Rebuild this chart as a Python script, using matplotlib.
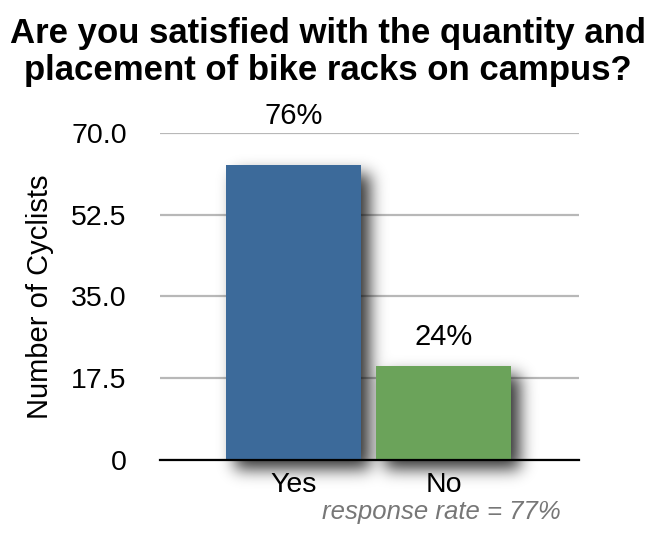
import matplotlib
matplotlib.use("Agg")
import matplotlib.pyplot as plt
import numpy as np

plt.rcParams["font.family"] = ["Liberation Sans", "DejaVu Sans"]

categories = ["Yes", "No"]
cyclists = [63, 20]
label_offsets = [49, 29]          # px above bar top for the percentage labels
yticks = [0, 17.5, 35.0, 52.5, 70.0]
ytick_labels = ["0", "17.5", "35.0", "52.5", "70.0"]
BLUE, GREEN = "#3c6a9a", "#6ba35a"

fig = plt.figure(figsize=(6.56, 5.35), dpi=100)
ax = fig.add_axes([160 / 656, 1 - 460 / 535, 419 / 656, (460 - 132.7) / 535])

xlim = (-0.896, 1.906)
ylim = (0, 70)
width = 0.903
x = np.arange(len(categories))

# drop shadow: blurred offset rectangles rendered as an RGBA image
px_x = 419 / (xlim[1] - xlim[0])
px_y = (460 - 132.7) / (ylim[1] - ylim[0])
sy0, sy1 = -12, 75
nx = 419
ny = int(round((sy1 - sy0) * px_y))
gx = xlim[0] + (np.arange(nx) + 0.5) / px_x
gy = sy0 + (np.arange(ny) + 0.5) / px_y
mask = np.zeros((ny, nx))
dx, dy = 9 / px_x, 9 / px_y
for xi, v in zip(x, cyclists):
    inx = (gx >= xi - width / 2 + dx) & (gx <= xi + width / 2 + dx)
    iny = (gy >= -dy) & (gy <= v - dy)
    mask[np.ix_(iny, inx)] = 1.0
sig = 8.0
k = np.arange(-26, 27)
kern = np.exp(-k ** 2 / (2 * sig ** 2))
kern /= kern.sum()
mask = np.apply_along_axis(lambda r: np.convolve(r, kern, mode="same"), 1, mask)
mask = np.apply_along_axis(lambda c: np.convolve(c, kern, mode="same"), 0, mask)
rgba = np.zeros((ny, nx, 4))
rgba[..., 3] = np.clip(mask, 0, 1) * 0.8
ax.imshow(rgba, origin="lower", extent=[xlim[0], xlim[1], sy0, sy1],
          aspect="auto", zorder=1, clip_on=False, interpolation="bilinear")

bars = ax.bar(x, cyclists, width=width, color=[BLUE, GREEN], zorder=2)

total = sum(cyclists)
for b, v, off in zip(bars, cyclists, label_offsets):
    ax.annotate(f"{round(100 * v / total)}%", (b.get_x() + b.get_width() / 2, v),
                xytext=(0, off * 72 / 100), textcoords="offset points",
                ha="center", va="center", fontsize=21, annotation_clip=False)

ax.set_xlim(*xlim)
ax.set_ylim(*ylim)
ax.set_yticks(yticks)
ax.set_yticklabels(ytick_labels)
ax.set_xticks(x)
ax.set_xticklabels(categories)
ax.tick_params(axis="both", length=0, labelsize=20.5)
ax.tick_params(axis="y", pad=24)
ax.tick_params(axis="x", pad=9)
ax.yaxis.grid(True, color="#b8b8b8", linewidth=1.6, zorder=0)
ax.set_axisbelow(True)
for s in ["top", "right", "left"]:
    ax.spines[s].set_visible(False)
ax.spines["bottom"].set_linewidth(1.6)
ax.spines["bottom"].set_zorder(3)
ax.set_ylabel("Number of Cyclists", fontsize=21, labelpad=12)

fig.text(0.5, 1 - 52 / 535, "Are you satisfied with the quantity and\nplacement of bike racks on campus?",
         ha="center", va="center", fontsize=25, fontweight="bold", linespacing=1.15)
fig.text(441 / 656, 1 - 512 / 535, "response rate = 77%", ha="center", va="center",
         fontsize=18.5, style="italic", color="#777777")

fig.savefig("out.png", dpi=100)
